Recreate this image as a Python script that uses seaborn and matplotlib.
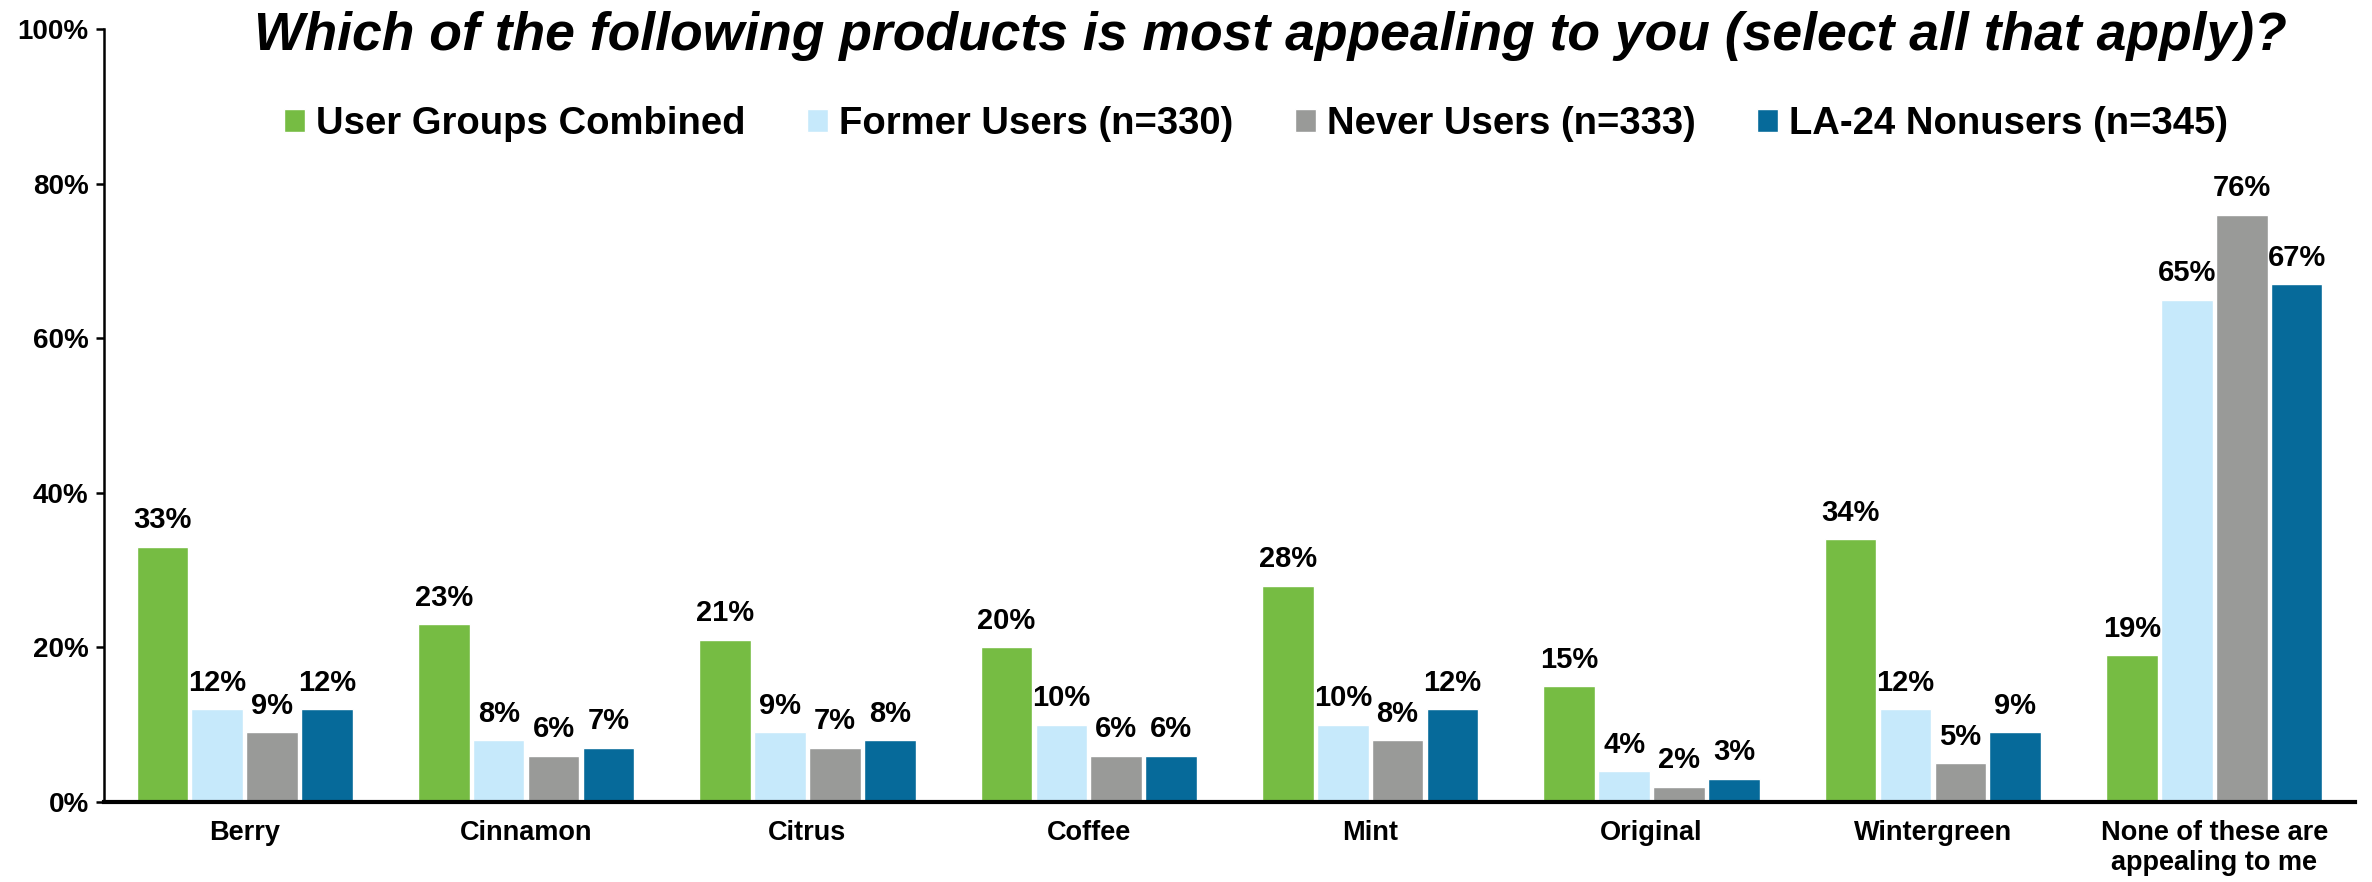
import matplotlib
matplotlib.use("Agg")
import matplotlib.pyplot as plt
import seaborn as sns
import pandas as pd
from matplotlib.ticker import FuncFormatter, MultipleLocator

# Survey results: share of respondents finding each product appealing (%)
categories = ["Berry", "Cinnamon", "Citrus", "Coffee", "Mint", "Original",
              "Wintergreen", "None of these are\nappealing to me"]
groups = ["User Groups Combined", "Former Users (n=330)",
          "Never Users (n=333)", "LA-24 Nonusers (n=345)"]
combined = [33, 23, 21, 20, 28, 15, 34, 19]
former = [12, 8, 9, 10, 10, 4, 12, 65]
never = [9, 6, 7, 6, 8, 2, 5, 76]
la24 = [12, 7, 8, 6, 12, 3, 9, 67]
colors = ["#76BC43", "#C6E9FB", "#999A98", "#066A9A"]

series = [combined, former, never, la24]
df = pd.DataFrame({
    "category": [c for _ in groups for c in categories],
    "group": [g for g in groups for _ in categories],
    "value": [v for s in series for v in s],
})

sns.set_theme(style="white")
plt.rcParams["font.family"] = ["Liberation Sans", "DejaVu Sans"]
plt.rcParams["font.weight"] = "bold"
plt.rcParams["text.color"] = "black"

fig = plt.figure(figsize=(23.72, 8.82), dpi=100)
ax = fig.add_axes([104 / 2372, 1 - 802 / 882, (2355 - 104) / 2372, (802 - 29) / 882])

sns.barplot(data=df, x="category", y="value", hue="group", order=categories,
            hue_order=groups, palette=colors, saturation=1, width=0.78, gap=0.06,
            edgecolor="white", linewidth=1, ax=ax, legend=True)

for cont in ax.containers:
    ax.bar_label(cont, labels=[f"{v:.0f}%" for v in cont.datavalues],
                 padding=9, fontsize=21, fontweight="bold", color="black")

ax.set_ylim(0, 100)
ax.set_xlim(-0.5, len(categories) - 0.5)
ax.yaxis.set_major_locator(MultipleLocator(20))
ax.yaxis.set_major_formatter(FuncFormatter(lambda v, _: f"{v:.0f}%"))
ax.set_xlabel("")
ax.set_ylabel("")

for side in ["top", "right"]:
    ax.spines[side].set_visible(False)
ax.spines["left"].set_color("black")
ax.spines["left"].set_linewidth(1.8)
ax.spines["bottom"].set_color("black")
ax.spines["bottom"].set_linewidth(3)
ax.spines["bottom"].set_zorder(5)

ax.tick_params(axis="y", which="major", direction="out", length=6, width=1.8,
               color="black", left=True, labelsize=20, pad=5)
ax.tick_params(axis="x", length=0, labelsize=19.5, pad=13)
for lab in ax.get_xticklabels() + ax.get_yticklabels():
    lab.set_fontweight("bold")
    lab.set_color("black")

handles, labels = ax.get_legend_handles_labels()
ax.get_legend().remove()
leg = fig.legend(handles, labels, loc="center", bbox_to_anchor=(1256 / 2372, 1 - 124 / 882),
                 ncol=4, frameon=False, handlelength=0.55, handleheight=0.55,
                 handletextpad=0.3, columnspacing=1.6, prop={"weight": "bold", "size": 27.5})
for t in leg.get_texts():
    t.set_color("black")

fig.text(1270 / 2372, 1 - 50 / 882,
         "Which of the following products is most appealing to you (select all that apply)?",
         ha="center", va="baseline", fontsize=38.5, fontweight="bold", fontstyle="italic",
         color="black")

fig.savefig("out.png", dpi=100, facecolor="white")
